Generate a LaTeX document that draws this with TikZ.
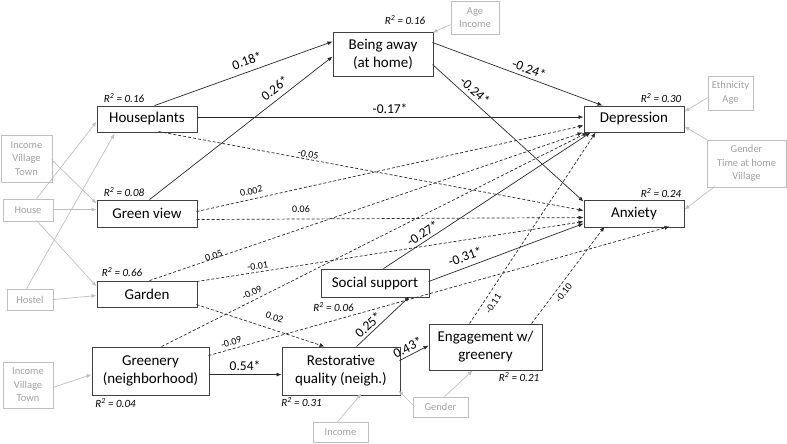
\documentclass[tikz,border=0pt]{standalone}
\usepackage{fontspec}
\setmainfont{Carlito}
\usetikzlibrary{arrows.meta,calc}
\definecolor{boxc}{RGB}{64,64,64}
\definecolor{arrc}{RGB}{40,40,40}
\definecolor{gline}{RGB}{191,191,191}
\definecolor{gtext}{RGB}{160,160,160}
\begin{document}
\begin{tikzpicture}[x=1pt,y=-1pt,
 box/.style={draw=boxc, line width=0.9pt, inner sep=0pt, align=center, font=\fontsize{15}{18}\selectfont, text=black},
 gbox/.style={draw=gline, line width=0.8pt, inner sep=0pt, align=center, font=\fontsize{10.5}{13.5}\selectfont, text=gtext},
 arr/.style={line width=0.7pt, draw=arrc, -{Latex[length=5pt,width=4pt]}},
 darr/.style={arr, dash pattern=on 3pt off 2pt},
 garr/.style={line width=0.7pt, draw=gline, -{Latex[length=5pt,width=4pt]}},
 big/.style={font=\fontsize{13.5}{14}\selectfont, inner sep=0.5pt, sloped, text=black},
 small/.style={font=\fontsize{10}{11}\selectfont, inner sep=0.5pt, sloped, text=black},
 rsq/.style={font=\fontsize{11}{12}\selectfont\itshape, inner sep=0pt, text=black}
]
\useasboundingbox (0,0) rectangle (787,444);

% main boxes
\node[box, minimum width=100pt, minimum height=44pt] (away) at (383,54) {Being away\\(at home)};
\node[box, minimum width=100pt, minimum height=26pt] (houseplants) at (147,119) {Houseplants};
\node[box, minimum width=100pt, minimum height=27pt] (greenview) at (147,213.5) {Green view};
\node[box, minimum width=100pt, minimum height=26pt] (garden) at (147,294) {Garden};
\node[box, minimum width=117pt, minimum height=48pt] (greenery) at (150.5,371) {Greenery\\(neighborhood)};
\node[box, minimum width=118pt, minimum height=48pt] (restorative) at (341,371) {Restorative\\quality (neigh.)};
\node[box, minimum width=108pt, minimum height=28pt] (social) at (375,283) {Social support};
\node[box, minimum width=113pt, minimum height=46pt] (engagement) at (485.5,347) {Engagement w/\\greenery};
\node[box, minimum width=100pt, minimum height=26pt] (depression) at (634,119) {Depression};
\node[box, minimum width=100pt, minimum height=27pt] (anxiety) at (634,213.5) {Anxiety};

% grey covariate boxes
\node[gbox, minimum width=48pt, minimum height=33pt] (ageinc) at (475,17.5) {Age\\Income};
\node[gbox, minimum width=45pt, minimum height=34pt] (ethage) at (730.5,93) {Ethnicity\\Age};
\node[gbox, minimum width=79pt, minimum height=47pt] (gtv) at (746.5,163.5) {Gender\\Time at home\\Village};
\node[gbox, minimum width=51pt, minimum height=47pt] (ivtA) at (26.5,158.5) {Income\\Village\\Town};
\node[gbox, minimum width=50pt, minimum height=22pt] (house) at (28,210) {House};
\node[gbox, minimum width=46pt, minimum height=21pt] (hostel) at (30,299.5) {Hostel};
\node[gbox, minimum width=50pt, minimum height=46pt] (ivtB) at (28,385) {Income\\Village\\Town};
\node[gbox, minimum width=55pt, minimum height=20pt] (income) at (340.5,432) {Income};
\node[gbox, minimum width=55pt, minimum height=20pt] (gender) at (440.5,407) {Gender};

% R squared
\node[rsq] (r1) at (405,20) {R\textsuperscript{2} = 0.16};
\node[rsq] (r2) at (124,98) {R\textsuperscript{2} = 0.16};
\node[rsq] (r3) at (124,192) {R\textsuperscript{2} = 0.08};
\node[rsq] (r4) at (122,272) {R\textsuperscript{2} = 0.66};
\node[rsq] (r5) at (115.5,403) {R\textsuperscript{2} = 0.04};
\node[rsq] (r6) at (301.5,402) {R\textsuperscript{2} = 0.31};
\node[rsq] (r7) at (333.5,307) {R\textsuperscript{2} = 0.06};
\node[rsq] (r8) at (519,377) {R\textsuperscript{2} = 0.21};
\node[rsq] (r9) at (661,98) {R\textsuperscript{2} = 0.30};
\node[rsq] (r10) at (661,193) {R\textsuperscript{2} = 0.24};

% grey arrows
\draw[garr] ($(ageinc.north west)+(0,24)$) -- ($(away.north west)+(100,1)$);
\draw[garr] ($(ethage.north west)+(0,22)$) -- ($(depression.north west)+(101,6)$);
\draw[garr] ($(gtv.north west)+(0,0)$) -- ($(depression.north west)+(101,21)$);
\draw[garr] ($(gtv.north west)+(8,47)$) -- ($(anxiety.north west)+(101,10)$);
\draw[garr] ($(ivtA.north west)+(51,25)$) -- ($(greenview.north west)+(0,4)$);
\draw[garr] ($(house.north west)+(34,0)$) -- ($(houseplants.north west)+(0,16)$);
\draw[garr] ($(house.north west)+(50,11)$) -- ($(greenview.north west)+(0,10)$);
\draw[garr] ($(house.north west)+(34,22)$) -- ($(garden.north west)+(0,6)$);
\draw[garr] ($(hostel.north west)+(20,0)$) -- ($(houseplants.north west)+(18,28)$);
\draw[garr] ($(hostel.north west)+(46,11)$) -- ($(garden.north west)+(0,15)$);
\draw[garr] ($(ivtB.north west)+(50,26)$) -- ($(greenery.north west)+(0,28)$);
\draw[garr] ($(income.north west)+(25,0)$) -- ($(restorative.north west)+(80,47)$);
\draw[garr] ($(gender.north west)+(0,8)$) -- ($(restorative.north west)+(117,44)$);
\draw[garr] ($(gender.north west)+(32,0)$) -- ($(engagement.north west)+(44,47)$);

% solid paths
\draw[arr] ($(houseplants.north west)+(58,0)$) -- node[big, above=5.5pt, pos=0.54]{0.18*} ($(away.north west)+(0,10)$);
\draw[arr] ($(greenview.north west)+(53,0)$) -- node[big, above=5pt, pos=0.72]{0.26*} ($(away.north west)+(0,25)$);
\draw[arr] ($(houseplants.north west)+(100,11.5)$) -- node[big, above=2.7pt, pos=0.5]{-0.17*} ($(depression.north west)+(0,11.5)$);
\draw[arr] ($(away.north west)+(100,11)$) -- node[big, above=3.2pt, pos=0.55]{-0.24*} ($(depression.north west)+(19,0)$);
\draw[arr] ($(away.north west)+(100,33)$) -- node[big, above=3.6pt, pos=0.24]{-0.24*} ($(anxiety.north west)+(0,2)$);
\draw[arr] ($(greenery.north west)+(117,28)$) -- node[big, above=3.2pt, pos=0.5]{0.54*} ($(restorative.north west)+(0,28)$);
\draw[arr] ($(restorative.north west)+(75,0)$) -- node[big, above=2.2pt, pos=0.32]{0.25*} ($(social.north west)+(89,28)$);
\draw[arr] ($(restorative.north west)+(118,14)$) -- node[big, above=2.2pt, pos=0.4]{0.43*} ($(engagement.north west)+(0,22)$);
\draw[arr] ($(social.north west)+(63,0)$) -- node[big, above=2.3pt, pos=0.21]{-0.27*} ($(depression.north west)+(7,27)$);
\draw[arr] ($(social.north west)+(108,13)$) -- node[big, above=5pt, pos=0.26]{-0.31*} ($(anxiety.north west)+(0,24)$);

% dashed paths
\draw[darr] ($(houseplants.north west)+(62,26)$) -- node[small, above=0.8pt, pos=0.35]{-0.05} ($(anxiety.north west)+(0,11)$);
\draw[darr] ($(greenview.north west)+(100,12)$) -- node[small, above=3.9pt, pos=0.146]{0.002} ($(depression.north west)+(0,20)$);
\draw[darr] ($(greenview.north west)+(100,20)$) -- node[small, above=5.8pt, pos=0.27]{0.06} ($(anxiety.north west)+(0,18)$);
\draw[darr] ($(garden.north west)+(53,0)$) -- node[small, above=-1.7pt, pos=0.15]{0.05} ($(depression.north west)+(-1,27)$);
\draw[darr] ($(garden.north west)+(100,1)$) -- node[small, above=1.8pt, pos=0.16]{-0.01} ($(anxiety.north west)+(0,22)$);
\draw[darr] ($(garden.north west)+(100,24)$) -- node[small, above=8pt, pos=0.58]{0.02} ($(restorative.north west)+(43,0)$);
\draw[darr] ($(greenery.north west)+(70,0)$) -- node[small, above=3.3pt, pos=0.22]{-0.09} ($(depression.north west)+(4,27)$);
\draw[darr] ($(greenery.north west)+(117,9)$) -- node[small, above=2.6pt, pos=0.053]{-0.09} ($(anxiety.north west)+(86,27)$);
\draw[darr] ($(engagement.north west)+(41,0)$) -- node[small, below=4.7pt, pos=0.13]{-0.11} ($(depression.north west)+(12,27)$);
\draw[darr] ($(engagement.north west)+(103,0)$) -- node[small, below=3.3pt, pos=0.36]{-0.10} ($(anxiety.north west)+(21,27)$);
\end{tikzpicture}
\end{document}
